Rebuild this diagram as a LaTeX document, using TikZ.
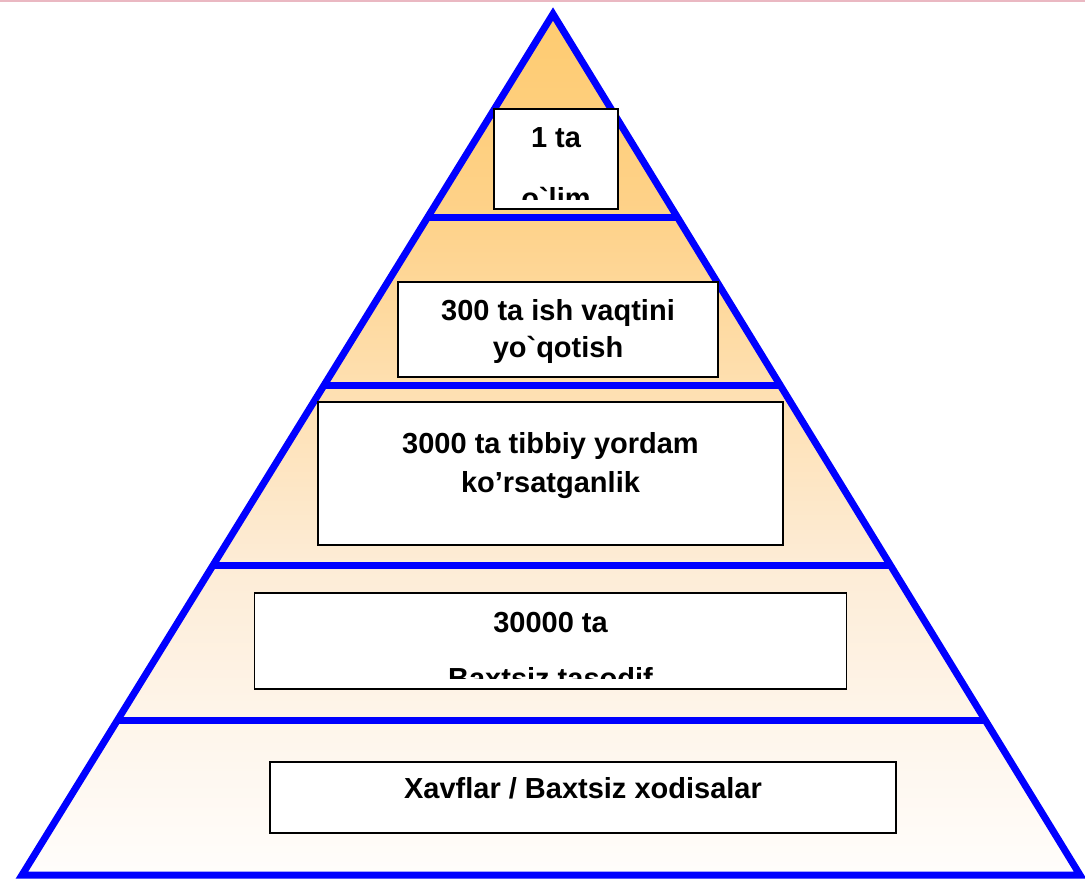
\documentclass[tikz,border=0pt]{standalone}
\usepackage{fontspec}
\usetikzlibrary{calc}
\newfontfamily\pyrfont{Liberation Sans}[Ligatures=TeXOff]
\definecolor{pyrblue}{RGB}{0,0,255}
\definecolor{edgepink}{RGB}{234,184,194}
\definecolor{shA}{RGB}{255,253,251}
\definecolor{shB}{RGB}{254,245,234}
\definecolor{shC}{RGB}{253,236,214}
\definecolor{shD}{RGB}{254,224,178}
\definecolor{shE}{RGB}{254,210,138}
\definecolor{shF}{RGB}{254,203,112}
\pgfdeclareverticalshading{pyrshade}{100bp}{color(0bp)=(shA); color(25bp)=(shA); color(34bp)=(shB);
  color(43bp)=(shC); color(53bp)=(shD); color(63bp)=(shE); color(75bp)=(shF); color(100bp)=(shF)}

\begin{document}
\begin{tikzpicture}[x=1pt, y=-1pt,
  level/.style={draw=pyrblue, line width=7pt},
  box/.style={rectangle, draw=black, line width=1.6pt, fill=white, inner sep=0pt, outer sep=0pt},
  lbl/.style={anchor=base, inner sep=0pt, font=\pyrfont\bfseries\fontsize{29pt}{35pt}\selectfont}]
\useasboundingbox (0,0) rectangle (1085,879);
\draw[edgepink, line width=1.5pt] (0,1) -- (1085,1);

% pyramid
\coordinate (apex) at (553,14);
\coordinate (bl) at (22,875);
\coordinate (br) at (1080,875);
\shade[shading=pyrshade] (apex) -- (bl) -- (br) -- cycle;
\foreach \t in {0.2369,0.4309,0.6400,0.8211}
  \draw[level] ($(apex)!\t!(bl)$) -- ($(apex)!\t!(br)$);
\draw[level] (apex) -- (bl) -- (br) -- cycle;

% boxes
\node[box, minimum width=124pt, minimum height=100pt] (b1) at (556,159) {};
\node[box, minimum width=320pt, minimum height=95pt] (b2) at (558,329.5) {};
\node[box, minimum width=465pt, minimum height=143pt] (b3) at (550.5,473.5) {};
\node[box, minimum width=592pt, minimum height=96pt] (b4) at (550.5,641) {};
\node[box, minimum width=626pt, minimum height=71pt] (b5) at (583,797.5) {};

\begin{scope}
  \clip ([yshift=10pt]b1.south west) rectangle (b1.north east);
  \node[lbl] (l1a) at (556,147) {1 ta};
  \node[lbl] (l1b) at (556,208) {o`lim};
\end{scope}
\begin{scope}
  \clip (b2.south west) rectangle (b2.north east);
  \node[lbl] (l2a) at (558,320) {300 ta ish vaqtini};
  \node[lbl] (l2b) at (558,357) {yo`qotish};
\end{scope}
\begin{scope}
  \clip (b3.south west) rectangle (b3.north east);
  \node[lbl] (l3a) at (550.5,453) {3000 ta tibbiy yordam};
  \node[lbl] (l3b) at (550.5,492) {ko’rsatganlik};
\end{scope}
\begin{scope}
  \clip ([yshift=11pt]b4.south west) rectangle (b4.north east);
  \node[lbl] (l4a) at (550.5,632) {30000 ta};
  \node[lbl] (l4b) at (550.5,688) {Baxtsiz tasodif};
\end{scope}
\node[lbl] (l5) at (583,798) {Xavflar / Baxtsiz xodisalar};
\end{tikzpicture}
\end{document}
